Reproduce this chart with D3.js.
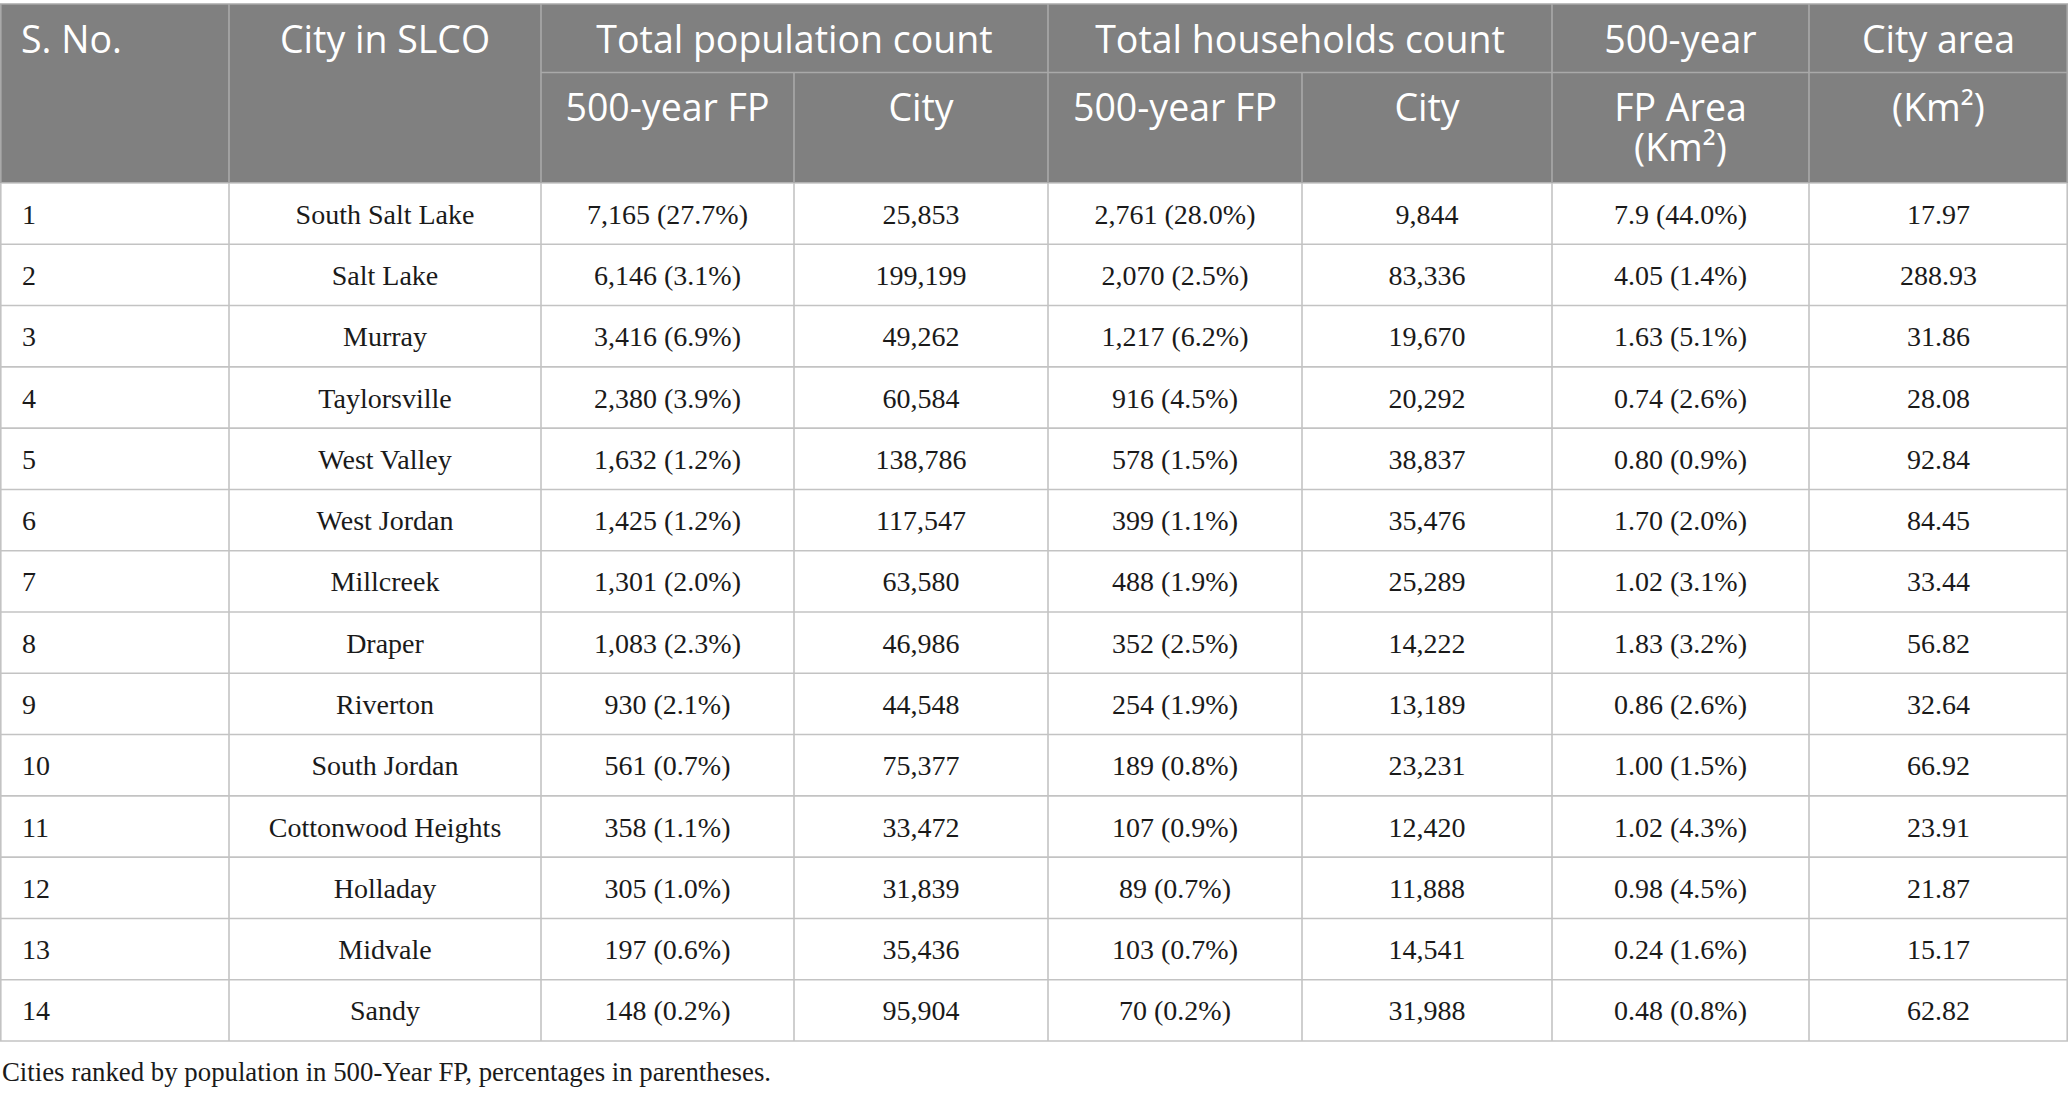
<!DOCTYPE html>
<html>
<head>
<meta charset="utf-8">
<script src="https://cdn.jsdelivr.net/npm/d3@7"></script>
<style>
  body { margin: 0; background: #fff; }
  svg { display: block; }
</style>
</head>
<body>
<div id="table-chart"></div>
<script>
// table values, one array per column
const sNo = [1, 2, 3, 4, 5, 6, 7, 8, 9, 10, 11, 12, 13, 14];
const cities = ["South Salt Lake", "Salt Lake", "Murray", "Taylorsville", "West Valley", "West Jordan",
    "Millcreek", "Draper", "Riverton", "South Jordan", "Cottonwood Heights", "Holladay", "Midvale", "Sandy"];
const popFP = [7165, 6146, 3416, 2380, 1632, 1425, 1301, 1083, 930, 561, 358, 305, 197, 148];
const popFPPct = [27.7, 3.1, 6.9, 3.9, 1.2, 1.2, 2.0, 2.3, 2.1, 0.7, 1.1, 1.0, 0.6, 0.2];
const popCity = [25853, 199199, 49262, 60584, 138786, 117547, 63580, 46986, 44548, 75377, 33472, 31839, 35436, 95904];
const hhFP = [2761, 2070, 1217, 916, 578, 399, 488, 352, 254, 189, 107, 89, 103, 70];
const hhFPPct = [28.0, 2.5, 6.2, 4.5, 1.5, 1.1, 1.9, 2.5, 1.9, 0.8, 0.9, 0.7, 0.7, 0.2];
const hhCity = [9844, 83336, 19670, 20292, 38837, 35476, 25289, 14222, 13189, 23231, 12420, 11888, 14541, 31988];
const fpArea = ["7.9", "4.05", "1.63", "0.74", "0.80", "1.70", "1.02", "1.83", "0.86", "1.00", "1.02", "0.98", "0.24", "0.48"];
const fpAreaPct = [44.0, 1.4, 5.1, 2.6, 0.9, 2.0, 3.1, 3.2, 2.6, 1.5, 4.3, 4.5, 1.6, 0.8];
const cityArea = ["17.97", "288.93", "31.86", "28.08", "92.84", "84.45", "33.44", "56.82", "32.64", "66.92", "23.91", "21.87", "15.17", "62.82"];

const caption = "Cities ranked by population in 500-Year FP, percentages in parentheses.";

// layout
const W = 2068, H = 1094;
const colEdges = [0, 229, 541, 794, 1048, 1302, 1552, 1809, 2068];
const headTop = 4, subLine = 72.5, headBottom = 183, tableBottom = 1041;
const headBg = "#808080", headLine = "#a9a9a9", bodyLine = "#c3c3c3";
const sansFont = "'Open Sans', 'Noto Sans', sans-serif";
const serifFont = "'Liberation Serif', 'Times New Roman', serif";

const fmtInt = d3.format(",");
const fmtPct = d3.format(".1f");
const colMid = i => (colEdges[i] + colEdges[i + 1]) / 2;

const svg = d3.select("#table-chart").append("svg")
    .attr("width", W).attr("height", H);

// rows
const y = d3.scaleBand().domain(d3.range(cities.length)).range([headBottom, tableBottom]);

const rows = sNo.map((n, i) => [
    n,
    cities[i],
    `${fmtInt(popFP[i])} (${fmtPct(popFPPct[i])}%)`,
    fmtInt(popCity[i]),
    `${fmtInt(hhFP[i])} (${fmtPct(hhFPPct[i])}%)`,
    fmtInt(hhCity[i]),
    `${fpArea[i]} (${fmtPct(fpAreaPct[i])}%)`,
    cityArea[i]
]);

// header background
svg.append("rect")
    .attr("x", 0).attr("y", headTop)
    .attr("width", W).attr("height", headBottom - headTop)
    .attr("fill", headBg);

// body grid
const bodyG = svg.append("g").attr("stroke", bodyLine).attr("stroke-width", 1.6);
bodyG.selectAll("line.h")
    .data(d3.range(cities.length + 1))
    .join("line")
    .attr("class", "h")
    .attr("x1", 0).attr("x2", W)
    .attr("y1", d => d === cities.length ? tableBottom : y(d))
    .attr("y2", d => d === cities.length ? tableBottom : y(d));
bodyG.selectAll("line.v")
    .data(colEdges)
    .join("line")
    .attr("class", "v")
    .attr("x1", (d, i) => i === 0 ? 0.8 : (i === colEdges.length - 1 ? W - 0.8 : d))
    .attr("x2", (d, i) => i === 0 ? 0.8 : (i === colEdges.length - 1 ? W - 0.8 : d))
    .attr("y1", headBottom).attr("y2", tableBottom);

// header grid
const headG = svg.append("g").attr("stroke", headLine).attr("stroke-width", 1.6);
headG.append("line").attr("x1", 0).attr("x2", W).attr("y1", headTop).attr("y2", headTop);
headG.append("line").attr("x1", colEdges[2]).attr("x2", W).attr("y1", subLine).attr("y2", subLine);
[0, 1, 2, 4, 6, 7, 8].forEach(i => {
    const x = i === 0 ? 0.8 : (i === 8 ? W - 0.8 : colEdges[i]);
    headG.append("line").attr("x1", x).attr("x2", x).attr("y1", headTop).attr("y2", headBottom);
});
[3, 5].forEach(i => {
    headG.append("line").attr("x1", colEdges[i]).attr("x2", colEdges[i])
        .attr("y1", subLine).attr("y2", headBottom);
});

// header text
const headText = svg.append("g")
    .attr("fill", "#fff")
    .attr("font-family", sansFont)
    .attr("font-size", 37.5);

const topHeads = [
    { text: "S. No.", x: 21, anchor: "start" },
    { text: "City in SLCO", x: colMid(1), anchor: "middle" },
    { text: "Total population count", x: (colEdges[2] + colEdges[4]) / 2, anchor: "middle" },
    { text: "Total households count", x: (colEdges[4] + colEdges[6]) / 2, anchor: "middle" },
    { text: "500-year", x: colMid(6), anchor: "middle" },
    { text: "City area", x: colMid(7), anchor: "middle" }
];
headText.selectAll("text.top")
    .data(topHeads)
    .join("text")
    .attr("class", "top")
    .attr("x", d => d.x).attr("y", 53)
    .attr("text-anchor", d => d.anchor)
    .text(d => d.text);

const subHeads = [
    { col: 2, lines: ["500-year FP"] },
    { col: 3, lines: ["City"] },
    { col: 4, lines: ["500-year FP"] },
    { col: 5, lines: ["City"] },
    { col: 6, lines: ["FP Area", "(Km²)"] },
    { col: 7, lines: ["(Km²)"] }
];
subHeads.forEach(h => {
    // one text element per cell, wrapped lines as tspans
    headText.append("text")
        .attr("text-anchor", "middle")
        .attr("y", 121)
        .selectAll("tspan")
        .data(h.lines)
        .join("tspan")
        .attr("x", colMid(h.col))
        .attr("dy", (d, k) => k === 0 ? 0 : 39.5)
        .text(d => d);
});

// body text
const bodyText = svg.append("g")
    .attr("fill", "#1a1a1a")
    .attr("font-family", serifFont)
    .attr("font-size", 28);

rows.forEach((r, i) => {
    bodyText.selectAll(null)
        .data(r)
        .join("text")
        .attr("x", (d, c) => c === 0 ? 22 : colMid(c))
        .attr("y", y(i) + y.bandwidth() / 2 + 10)
        .attr("text-anchor", (d, c) => c === 0 ? "start" : "middle")
        .text(d => d);
});

// caption
svg.append("text")
    .attr("x", 2).attr("y", 1081)
    .attr("fill", "#1a1a1a")
    .attr("font-family", serifFont)
    .attr("font-size", 26.8)
    .text(caption);
</script>
</body>
</html>
